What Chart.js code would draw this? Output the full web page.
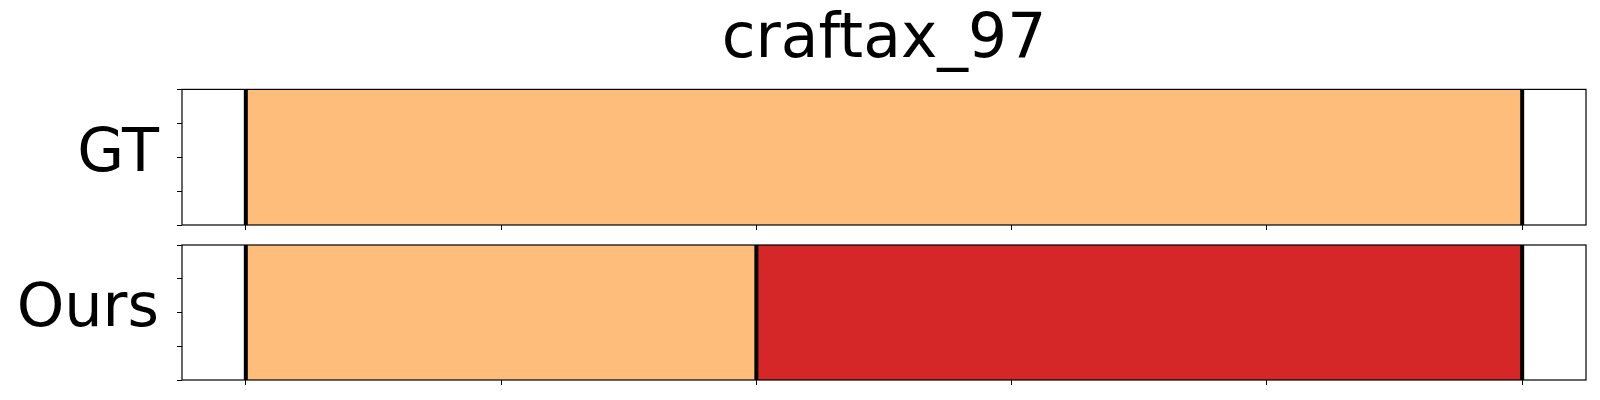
<!DOCTYPE html>
<html>
<head>
<meta charset="utf-8">
<script src="https://cdn.jsdelivr.net/npm/chart.js@4"></script>
<style>
  html, body { margin: 0; padding: 0; background: #fff; }
  #wrap { position: relative; width: 1600px; height: 400px; }
  canvas { position: absolute; left: 0; }
  #gt { top: 0; }
  #ours { top: 232px; }
</style>
</head>
<body>
<div id="wrap">
  <canvas id="gt" width="1600" height="232"></canvas>
  <canvas id="ours" width="1600" height="168"></canvas>
</div>
<script>
/* craftax_97 — segment timeline, ground truth vs ours */
const TITLE = "craftax_97";
const ROW_LABELS = ["GT", "Ours"];
const X_RANGE = [-0.25, 5.25];
const Y_TICK_STEP = 0.25;

// segments as [start, end] in step units, with a phase id each
const GT_SEGMENTS = [[0, 5]];
const GT_PHASES = ["A"];
const OURS_SEGMENTS = [[0, 2], [2, 5]];
const OURS_PHASES = ["A", "B"];
const PHASE_COLORS = { A: "#febd7b", B: "#d62728" };

Chart.defaults.font.family = "'DejaVu Sans', sans-serif";
Chart.defaults.color = "#000";

const frame = {
  id: "frame",
  afterDraw(chart) {
    const { ctx, chartArea: a } = chart;
    ctx.save();
    ctx.strokeStyle = "#000";
    ctx.lineWidth = 1.2;
    ctx.strokeRect(a.left, a.top, a.right - a.left, a.bottom - a.top);
    ctx.restore();
  },
};

function makeRow(canvasId, label, segments, phases, withTitle, padding) {
  const bounds = [...new Set(segments.flat())];
  const bars = segments.map((s, i) => ({
    type: "bar",
    indexAxis: "y",
    xAxisID: "x",
    yAxisID: "yc",
    data: [s],
    backgroundColor: PHASE_COLORS[phases[i]],
    borderWidth: 0,
    grouped: false,
    barPercentage: 1,
    categoryPercentage: 1,
    order: 2,
  }));
  const lines = bounds.map((b) => ({
    type: "line",
    xAxisID: "x",
    yAxisID: "y",
    data: [{ x: b, y: 0 }, { x: b, y: 1 }],
    borderColor: "#000",
    borderWidth: 4,
    pointRadius: 0,
    fill: false,
    order: 1,
  }));

  return new Chart(document.getElementById(canvasId), {
    type: "bar",
    data: { labels: [label], datasets: [...lines, ...bars] },
    options: {
      responsive: false,
      animation: false,
      events: [],
      layout: { padding },
      plugins: {
        legend: { display: false },
        tooltip: { enabled: false },
        title: {
          display: withTitle,
          text: TITLE,
          fullSize: false,
          color: "#000",
          font: { size: 61.5, weight: "normal" },
          padding: { top: 4, bottom: 11.6 },
        },
      },
      scales: {
        x: {
          type: "linear",
          position: "bottom",
          min: X_RANGE[0],
          max: X_RANGE[1],
          offset: false,
          beginAtZero: false,
          border: { display: false },
          grid: { offset: false, drawOnChartArea: false, drawTicks: true, tickLength: 5, color: "#000", lineWidth: 1 },
          ticks: { display: false, stepSize: 1, includeBounds: false, autoSkip: false },
        },
        y: {
          type: "linear",
          position: "left",
          min: 0,
          max: 1,
          offset: false,
          border: { display: false },
          grid: { offset: false, drawOnChartArea: false, drawTicks: true, tickLength: 5, color: "#000", lineWidth: 1 },
          ticks: {
            stepSize: Y_TICK_STEP,
            autoSkip: false,
            padding: 18,
            labelOffset: -2,
            color: "#000",
            font: { size: 60.5 },
            callback: (v) => (v === 0.5 ? label : ""),
          },
          afterFit: (s) => {
            s.width = 182;
            s.paddingTop = 0;
            s.paddingBottom = 0;
          },
        },
        yc: {
          type: "category",
          display: false,
          offset: true,
        },
      },
    },
    plugins: [frame],
  });
}

makeRow("gt", ROW_LABELS[0], GT_SEGMENTS, GT_PHASES, true, { top: 0, bottom: 2, left: 0, right: 14 });
makeRow("ours", ROW_LABELS[1], OURS_SEGMENTS, OURS_PHASES, false, { top: 13, bottom: 15, left: 0, right: 14 });
</script>
</body>
</html>
